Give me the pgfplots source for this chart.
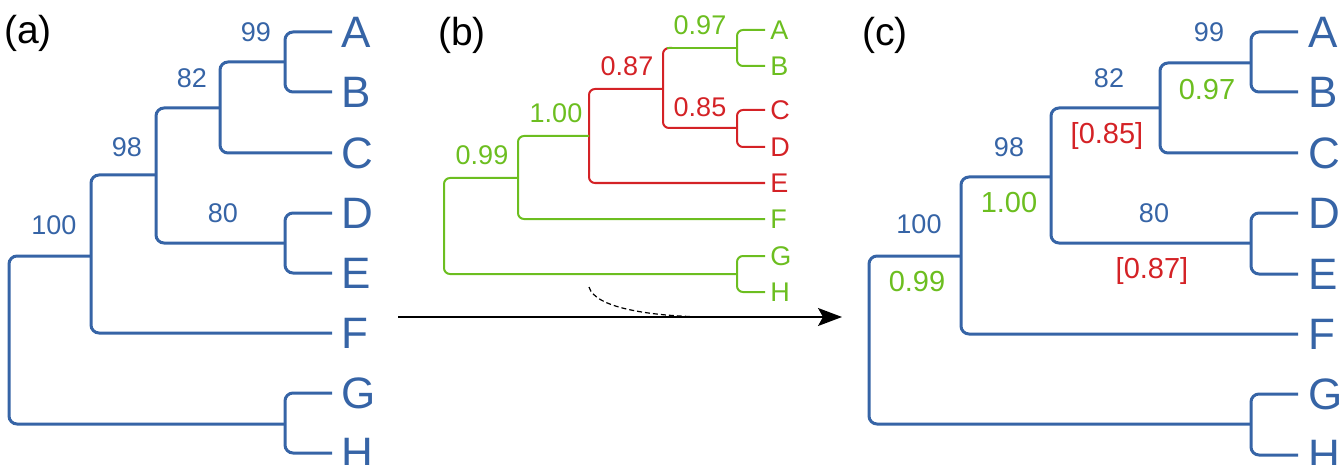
\documentclass[border=0pt]{standalone}
\usepackage{pgfplots}
\pgfplotsset{compat=1.18}
\usepackage{fontspec}
\setmainfont{Liberation Sans}
\usetikzlibrary{arrows.meta}
\definecolor{treeblue}{RGB}{54,100,166}
\definecolor{treegreen}{RGB}{108,190,32}
\definecolor{treered}{RGB}{212,34,38}
\tikzset{
  big/.style={treeblue, line width=1.5pt, rounded corners=4pt},
  thin/.style={line width=1pt, rounded corners=3pt},
  leaf/.style={anchor=west, inner sep=0pt, font=\fontsize{22}{22}\selectfont},
  num/.style={inner sep=0pt, font=\fontsize{13.5}{14}\selectfont},
  sleaf/.style={anchor=west, inner sep=0pt, font=\fontsize{13.5}{14}\selectfont},
  tag/.style={inner sep=0pt, font=\fontsize{19.5}{20}\selectfont},
  bnum/.style={inner sep=0pt, font=\fontsize{14.5}{15}\selectfont},
}

\begin{document}
\begin{tikzpicture}
\begin{axis}[
  width=669.5pt, height=232.5pt, scale only axis,
  xmin=0, xmax=1339, ymin=0, ymax=465, y dir=reverse,
  hide axis, clip=false,
]
% ---------- (a) ----------
\addplot[big] coordinates {(332,32)(285,32)(285,92)(332,92)};
\addplot[big] coordinates {(285,62)(220,62)(220,153)(332,153)};
\addplot[big] coordinates {(332,213)(285,213)(285,273)(332,273)};
\addplot[big] coordinates {(220,108)(156,108)(156,243)(285,243)};
\addplot[big] coordinates {(156,175)(91,175)(91,333)(332,333)};
\addplot[big] coordinates {(91,256)(9,256)(9,424)(285,424)};
\addplot[big] coordinates {(332,393)(285,393)(285,453)(332,453)};

\node[tag] at (28,33) {(a)};
\node[leaf, treeblue] at (341,32) {A};
\node[leaf, treeblue] at (341,92) {B};
\node[leaf, treeblue] at (341,153) {C};
\node[leaf, treeblue] at (341,213) {D};
\node[leaf, treeblue] at (341,273) {E};
\node[leaf, treeblue] at (341,333) {F};
\node[leaf, treeblue] at (341,393) {G};
\node[leaf, treeblue] at (341,453) {H};
\node[num, treeblue] at (256,32) {99};
\node[num, treeblue] at (192,78) {82};
\node[num, treeblue] at (127,147) {98};
\node[num, treeblue] at (223,213) {80};
\node[num, treeblue] at (54,225) {100};

% ---------- (b) ----------
\addplot[thin, treegreen] coordinates {(765,30)(737,30)(737,66)(765,66)};
\addplot[thin, treered] coordinates {(765,110)(737,110)(737,147)(765,147)};
\addplot[thin, treered] coordinates {(672,48)(663,48)(663,128)(737,128)};
\addplot[thin, treegreen] coordinates {(667,48)(737,48)};
\addplot[thin, treered] coordinates {(663,89)(589,89)(589,183)(765,183)};
\addplot[thin, treegreen] coordinates {(589,136)(518,136)(518,219)(765,219)};
\addplot[thin, treegreen] coordinates {(518,178)(444,178)(444,274)(737,274)};
\addplot[thin, treegreen] coordinates {(765,256)(737,256)(737,292)(765,292)};

\node[tag] at (462,35) {(b)};
\node[sleaf, treegreen] at (770,30) {A};
\node[sleaf, treegreen] at (770,66) {B};
\node[sleaf, treered] at (770,110) {C};
\node[sleaf, treered] at (770,147) {D};
\node[sleaf, treered] at (770,183) {E};
\node[sleaf, treegreen] at (770,219) {F};
\node[sleaf, treegreen] at (770,256) {G};
\node[sleaf, treegreen] at (770,292) {H};
\node[num, treegreen] at (700,25) {0.97};
\node[num, treered] at (627,66) {0.87};
\node[num, treered] at (700,107) {0.85};
\node[num, treegreen] at (556,113) {1.00};
\node[num, treegreen] at (482,155) {0.99};

% arrow and dashed curve
\addplot[black, line width=0.8pt, -{Stealth[length=12pt, width=9pt, inset=2.5pt]}] coordinates {(398,317)(842,317)};
\draw[black, line width=0.6pt, dash pattern=on 2.5pt off 1.5pt] (589,287) .. controls (595,308) and (650,316) .. (705,317);

% ---------- (c) ----------
\addplot[big] coordinates {(1298,32)(1251,32)(1251,92)(1298,92)};
\addplot[big] coordinates {(1251,63)(1160,63)(1160,153)(1298,153)};
\addplot[big] coordinates {(1298,213)(1251,213)(1251,274)(1298,274)};
\addplot[big] coordinates {(1160,108)(1051,108)(1051,243)(1251,243)};
\addplot[big] coordinates {(1051,177)(961,177)(961,334)(1298,334)};
\addplot[big] coordinates {(961,256)(869,256)(869,424)(1251,424)};
\addplot[big] coordinates {(1298,394)(1251,394)(1251,455)(1298,455)};

\node[tag] at (885,35) {(c)};
\node[leaf, treeblue] at (1308,32) {A};
\node[leaf, treeblue] at (1308,92) {B};
\node[leaf, treeblue] at (1308,153) {C};
\node[leaf, treeblue] at (1308,213) {D};
\node[leaf, treeblue] at (1308,274) {E};
\node[leaf, treeblue] at (1308,334) {F};
\node[leaf, treeblue] at (1308,394) {G};
\node[leaf, treeblue] at (1308,455) {H};
\node[num, treeblue] at (1209,32) {99};
\node[bnum, treegreen] at (1207,90) {0.97};
\node[num, treeblue] at (1109,78) {82};
\node[bnum, treered] at (1107,136) {[0.85]};
\node[num, treeblue] at (1009,147) {98};
\node[bnum, treegreen] at (1009,203) {1.00};
\node[num, treeblue] at (1154,213) {80};
\node[bnum, treered] at (1152,271) {[0.87]};
\node[num, treeblue] at (919,224) {100};
\node[bnum, treegreen] at (917,282) {0.99};
\end{axis}
\pgfresetboundingbox
\useasboundingbox (0,0) rectangle (669.5pt,232.5pt);
\end{tikzpicture}
\end{document}
